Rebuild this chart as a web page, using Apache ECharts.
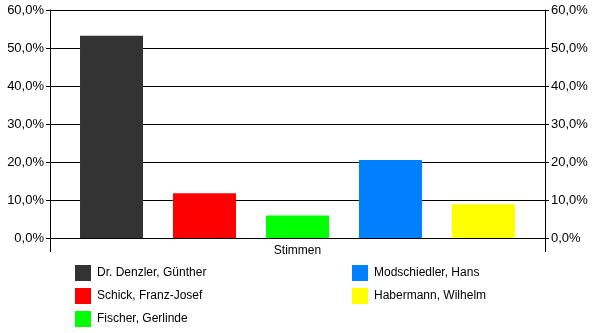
<!DOCTYPE html>
<html><head><meta charset="utf-8">
<script src="https://cdn.jsdelivr.net/npm/echarts@6/dist/echarts.min.js"></script>
<style>html,body{margin:0;padding:0;background:#fff}#c{width:600px;height:333px}</style>
</head><body><div id="c"></div>
<script>
const categories = ['Stimmen'];
const seriesNames = ['Dr. Denzler, Günther', 'Schick, Franz-Josef', 'Fischer, Gerlinde', 'Modschiedler, Hans', 'Habermann, Wilhelm'];
const seriesValues = [53.2, 11.8, 5.9, 20.5, 8.9];
const seriesColors = ['#333333', '#ff0000', '#00ff00', '#0080ff', '#ffff00'];
const yTicks = [0, 10, 20, 30, 40, 50, 60];

const font = 'Liberation Sans, Arial, sans-serif';
const fmt = v => v.toFixed(1).replace('.', ',') + '%';
const yAxisBase = {
  type: 'value', min: yTicks[0], max: yTicks[yTicks.length - 1], interval: yTicks[1] - yTicks[0],
  axisLine: { show: true, lineStyle: { color: '#000', width: 1 } },
  axisTick: { show: true, length: 4, lineStyle: { color: '#000' } },
  axisLabel: { formatter: fmt, color: '#000', fontFamily: font, fontSize: 13, margin: 6 }
};
const legendBase = {
  orient: 'vertical', top: 265, padding: 0, height: 80, itemWidth: 16, itemHeight: 16, itemGap: 7,
  icon: 'rect', textStyle: { color: '#000', fontFamily: font, fontSize: 12, padding: [0, 0, 0, 1] }
};
const chart = echarts.init(document.getElementById('c'), null, { renderer: 'canvas' });
chart.setOption({
  animation: false,
  backgroundColor: '#fff',
  grid: { left: 50, right: 55, top: 10, bottom: 95, containLabel: false },
  xAxis: {
    type: 'category', data: categories,
    axisLine: { show: true, lineStyle: { color: '#000', width: 1 } },
    axisTick: { show: true, length: 14, lineStyle: { color: '#000' } },
    axisLabel: { color: '#000', fontFamily: font, fontSize: 12, margin: 7 }
  },
  yAxis: [
    Object.assign({}, yAxisBase, { position: 'left', splitLine: { show: true, lineStyle: { color: '#000', width: 1 } } }),
    Object.assign({}, yAxisBase, { position: 'right', splitLine: { show: false } })
  ],
  legend: [
    Object.assign({}, legendBase, { left: 75, data: seriesNames.slice(0, 3) }),
    Object.assign({}, legendBase, { left: 352, data: seriesNames.slice(3) })
  ],
  series: seriesNames.map((n, i) => ({
    name: n, type: 'bar', data: [seriesValues[i]], barWidth: 63, barGap: '47.6%',
    itemStyle: { color: seriesColors[i] }
  }))
});
</script></body></html>
